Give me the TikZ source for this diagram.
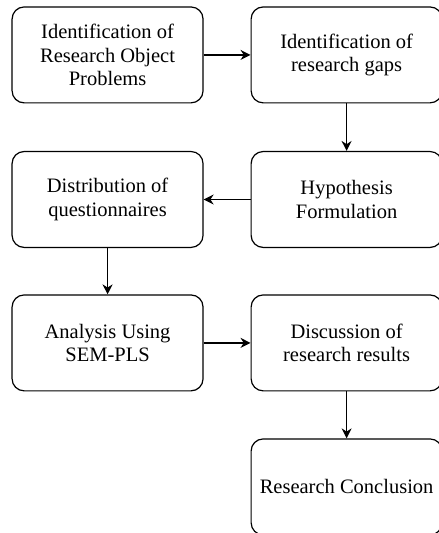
\documentclass[tikz,border=0pt]{standalone}
\usepackage{fontspec}
\setmainfont{Liberation Serif}
\usetikzlibrary{arrows.meta}

\begin{document}
\begin{tikzpicture}
\tikzstyle{every node} = [font = \fontsize{20.5}{23.5}\selectfont]
\tikzstyle{stepbox} = [draw, line width=1.2pt, rounded corners=12pt,
  minimum width=6.71cm, minimum height=3.37cm, align=center, inner sep=2pt]
\tikzstyle{link} = [line width=1.2pt, -{Stealth[length=10pt,width=10pt]}]

\useasboundingbox (0, 0) rectangle (15.40, 18.73);

\node[stepbox] (problems) at (3.78, 16.80) {Identification of\\Research Object\\Problems};
\node[stepbox] (gaps) at (12.18, 16.80) {Identification of\\research gaps};
\node[stepbox] (quest) at (3.78, 11.72) {Distribution of\\questionnaires};
\node[stepbox] (hypo) at (12.18, 11.72) {Hypothesis\\Formulation};
\node[stepbox] (sempls) at (3.78, 6.68) {Analysis Using\\SEM-PLS};
\node[stepbox] (discuss) at (12.18, 6.68) {Discussion of\\research results};
\node[stepbox] (concl) at (12.18, 1.62) {Research Conclusion};

% prima riga
\draw[link] (problems) -- (gaps);
\draw[link] (gaps) -- (hypo);

% seconda riga
\draw[link] (hypo) -- (quest);
\draw[link] (quest) -- (sempls);

% terza riga
\draw[link] (sempls) -- (discuss);
\draw[link] (discuss) -- (concl);

\end{tikzpicture}
\end{document}
